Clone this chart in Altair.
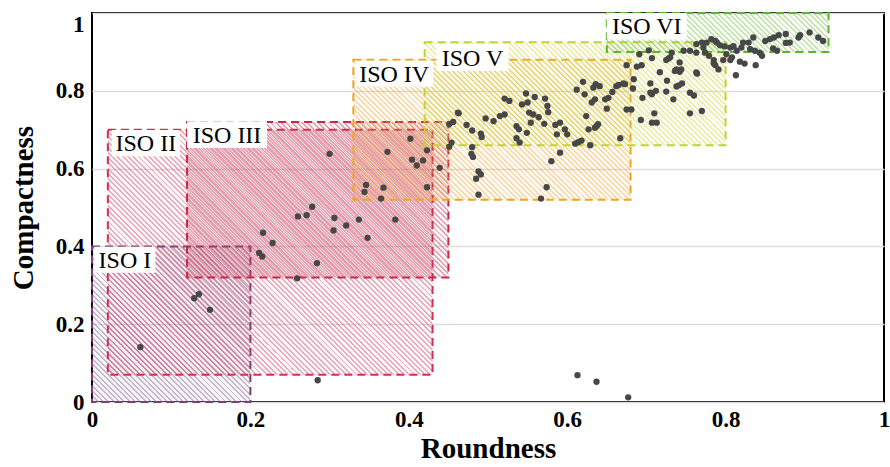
import altair as alt
import pandas as pd

# ---------------- data ----------------
iso_names = ["ISO I", "ISO II", "ISO III", "ISO IV", "ISO V", "ISO VI"]
iso_x0 = [0.00, 0.02, 0.12, 0.33, 0.42, 0.65]
iso_x1 = [0.20, 0.43, 0.45, 0.68, 0.80, 0.93]
iso_y0 = [0.00, 0.07, 0.32, 0.52, 0.66, 0.90]
iso_y1 = [0.40, 0.70, 0.72, 0.88, 0.925, 1.00]

# label boxes (annotation placement, data units)
lab_x0 = [0.003, 0.025, 0.120, 0.332, 0.435, 0.650]
lab_x1 = [0.080, 0.111, 0.221, 0.431, 0.526, 0.751]
lab_y0 = [0.332, 0.632, 0.653, 0.811, 0.851, 0.932]
lab_y1 = [0.399, 0.699, 0.722, 0.877, 0.920, 1.000]

roundness = [
    0.061, 0.129, 0.135, 0.149, 0.216, 0.228, 0.211, 0.215, 0.259, 0.285, 0.284,
    0.260, 0.271, 0.278, 0.300, 0.306, 0.305, 0.321, 0.337, 0.348, 0.383,
    0.346, 0.344, 0.368, 0.365, 0.373, 0.402, 0.404, 0.410, 0.418, 0.423, 0.439, 0.423,
    0.451, 0.454, 0.456, 0.462,
    0.463, 0.451, 0.473, 0.480, 0.491, 0.492, 0.497, 0.507, 0.515, 0.521, 0.521, 0.527,
    0.543, 0.550, 0.548, 0.559, 0.572, 0.575, 0.576, 0.552, 0.557, 0.564, 0.554, 0.571,
    0.536, 0.539, 0.549, 0.536, 0.540, 0.585, 0.591, 0.587, 0.597, 0.600, 0.591, 0.580,
    0.574, 0.567, 0.612, 0.620, 0.622, 0.633, 0.636, 0.635, 0.631, 0.624, 0.627, 0.637,
    0.610, 0.614, 0.618, 0.629, 0.480, 0.479, 0.481, 0.488, 0.491, 0.485, 0.488,
    0.691, 0.703, 0.707, 0.694, 0.688, 0.675, 0.717, 0.725, 0.730, 0.742, 0.736, 0.742,
    0.764, 0.684, 0.673, 0.665, 0.705, 0.726, 0.741, 0.745, 0.755, 0.760, 0.705, 0.712,
    0.725, 0.734, 0.695, 0.707, 0.683, 0.671, 0.675, 0.681, 0.710, 0.707, 0.713, 0.693,
    0.755, 0.770, 0.667, 0.650, 0.652, 0.648, 0.657, 0.641, 0.662, 0.639, 0.635,
    0.747, 0.755, 0.732, 0.728, 0.763, 0.776, 0.782, 0.787, 0.789, 0.793, 0.799, 0.806,
    0.810, 0.814, 0.820, 0.822, 0.829, 0.835, 0.831, 0.837, 0.843, 0.850, 0.856, 0.861,
    0.867, 0.876, 0.860, 0.865, 0.876, 0.881, 0.892, 0.894, 0.906, 0.917, 0.923,
    0.774, 0.779, 0.785, 0.787, 0.791, 0.806, 0.818, 0.824, 0.838, 0.813, 0.772, 0.770,
    0.763, 0.797, 0.785, 0.801, 0.808, 0.763, 0.846, 0.738, 0.744, 0.738,
    0.613, 0.637, 0.677,
]
compactness = [
    0.141, 0.267, 0.277, 0.237, 0.435, 0.409, 0.383, 0.374, 0.318, 0.056, 0.357,
    0.477, 0.480, 0.502, 0.638, 0.473, 0.441, 0.454, 0.469, 0.422, 0.469,
    0.558, 0.540, 0.551, 0.523, 0.643, 0.677, 0.623, 0.608, 0.621, 0.647, 0.602, 0.552,
    0.656, 0.667, 0.720, 0.744,
    0.742, 0.714, 0.712, 0.698, 0.690, 0.681, 0.729, 0.722, 0.735, 0.739, 0.780, 0.774,
    0.765, 0.770, 0.793, 0.784, 0.780, 0.761, 0.745, 0.744, 0.739, 0.732, 0.718, 0.715,
    0.709, 0.701, 0.692, 0.678, 0.667, 0.712, 0.718, 0.688, 0.701, 0.688, 0.641, 0.619,
    0.552, 0.523, 0.803, 0.823, 0.791, 0.808, 0.817, 0.778, 0.770, 0.735, 0.701, 0.709,
    0.664, 0.668, 0.672, 0.660, 0.655, 0.638, 0.630, 0.593, 0.585, 0.574, 0.533,
    0.894, 0.904, 0.884, 0.866, 0.862, 0.866, 0.848, 0.879, 0.886, 0.873, 0.851, 0.849,
    0.844, 0.830, 0.817, 0.815, 0.819, 0.826, 0.814, 0.819, 0.795, 0.788, 0.795, 0.800,
    0.798, 0.778, 0.782, 0.791, 0.806, 0.819, 0.752, 0.752, 0.742, 0.718, 0.718, 0.725,
    0.742, 0.748, 0.678, 0.754, 0.782, 0.778, 0.797, 0.812, 0.812, 0.714, 0.705,
    0.903, 0.903, 0.898, 0.883, 0.920, 0.924, 0.933, 0.928, 0.924, 0.917, 0.914, 0.911,
    0.915, 0.903, 0.911, 0.924, 0.924, 0.937, 0.907, 0.903, 0.898, 0.928, 0.933, 0.937,
    0.943, 0.946, 0.909, 0.903, 0.923, 0.924, 0.937, 0.943, 0.950, 0.937, 0.928,
    0.898, 0.890, 0.879, 0.866, 0.855, 0.879, 0.875, 0.870, 0.866, 0.840, 0.911, 0.924,
    0.898, 0.879, 0.870, 0.894, 0.886, 0.847, 0.890, 0.855, 0.855, 0.811,
    0.069, 0.052, 0.012,
]

# ---------------- styles ----------------
PW, PH = 792, 389
edge_colors = ["#7b3f72", "#d32f50", "#cc2644", "#f0a424", "#c4d42e", "#5db52e"]
hatch_rgb = [(130, 95, 140), (205, 70, 105), (200, 50, 85), (242, 170, 60), (205, 215, 70), (120, 195, 80)]
SERIF = "Liberation Serif"


def hatch(rgb, w, h, period=5.3, frac=0.36, a_line=0.46, a_bg=0.06):
    r, g, b = rgb
    line = f"rgba({r},{g},{b},{a_line})"
    bg = f"rgba({r},{g},{b},{a_bg})"
    n = max(1, round((w + h) / period))
    stops = []
    for i in range(n):
        o0, o1, o2 = i / n, (i + frac) / n, (i + 1) / n
        stops += [
            alt.GradientStop(color=line, offset=o0),
            alt.GradientStop(color=line, offset=o1),
            alt.GradientStop(color=bg, offset=o1),
            alt.GradientStop(color=bg, offset=o2),
        ]
    a = (w + h) / (w * w + h * h)
    return alt.LinearGradient(gradient="linear", stops=stops,
                              x1=0, y1=1, x2=a * w, y2=1 - a * h)


xscale = alt.Scale(domain=[0, 1], nice=False, zero=False)
yscale = alt.Scale(domain=[0, 1], nice=False, zero=False)
ticks = [0, 0.2, 0.4, 0.6, 0.8, 1]

xaxis = alt.Axis(values=ticks, format=".1~f", grid=False, domain=False, ticks=False,
                 labelFlush=False,
                 labelFont=SERIF, labelFontSize=23, labelFontWeight="bold", labelColor="black",
                 labelPadding=6, titleFont=SERIF, titleFontSize=29, titleFontWeight="bold",
                 titleColor="black", titlePadding=3)
yaxis = alt.Axis(values=ticks, format=".1~f", grid=True, gridColor="#dddddd", gridWidth=1.5,
                 domain=False, ticks=False, labelFlush=False,
                 labelFont=SERIF, labelFontSize=23, labelFontWeight="bold", labelColor="black",
                 labelPadding=8,
                 labelBaseline={"condition": {"test": "datum.value >= 1", "value": "top"}, "value": "middle"},
                 titleFont=SERIF, titleFontSize=29, titleFontWeight="bold",
                 titleColor="black", titlePadding=17)


def X(field):
    return alt.X(field, type="quantitative", scale=xscale, axis=xaxis, title="Roundness")


def Y(field):
    return alt.Y(field, type="quantitative", scale=yscale, axis=yaxis, title="Compactness")


iso_df = pd.DataFrame({"name": iso_names, "x0": iso_x0, "x1": iso_x1, "y0": iso_y0, "y1": iso_y1})
lab_df = pd.DataFrame({"name": iso_names, "x0": lab_x0, "x1": lab_x1, "y0": lab_y0, "y1": lab_y1})
lab_df["xc"] = (lab_df["x0"] + lab_df["x1"]) / 2
lab_df["yc"] = (lab_df["y0"] + lab_df["y1"]) / 2
pts_df = pd.DataFrame({"Roundness": roundness, "Compactness": compactness})

points = alt.Chart(pts_df).mark_circle(size=40, color="#474747", opacity=1).encode(
    x=X("Roundness"), y=Y("Compactness"))

layers = []
for i, name in enumerate(iso_names):
    w = (iso_x1[i] - iso_x0[i]) * PW
    h = (iso_y1[i] - iso_y0[i]) * PH
    layers.append(
        alt.Chart(iso_df[iso_df["name"] == name]).mark_rect(
            fill=hatch(hatch_rgb[i], w, h), stroke=edge_colors[i],
            strokeDash=[8, 5], strokeWidth=2
        ).encode(x=X("x0"), x2="x1", y=Y("y0"), y2="y1")
    )

boxes = alt.Chart(lab_df).mark_rect(fill="white").encode(
    x=X("x0"), x2="x1", y=Y("y0"), y2="y1")
texts = alt.Chart(lab_df).mark_text(font=SERIF, fontSize=24, color="black",
                                    align="center", baseline="middle", dy=1).encode(
    x=X("xc"), y=Y("yc"), text="name:N")

chart = alt.layer(*layers, points, boxes, texts).properties(
    width=PW, height=PH,
    autosize=alt.AutoSizeParams(type="none"),
    padding={"left": 92, "top": 13, "right": 6, "bottom": 65},
    background="white",
).configure_view(stroke="black", strokeWidth=2)

chart.save("out.html", embed_options={"renderer": "svg", "actions": False})
